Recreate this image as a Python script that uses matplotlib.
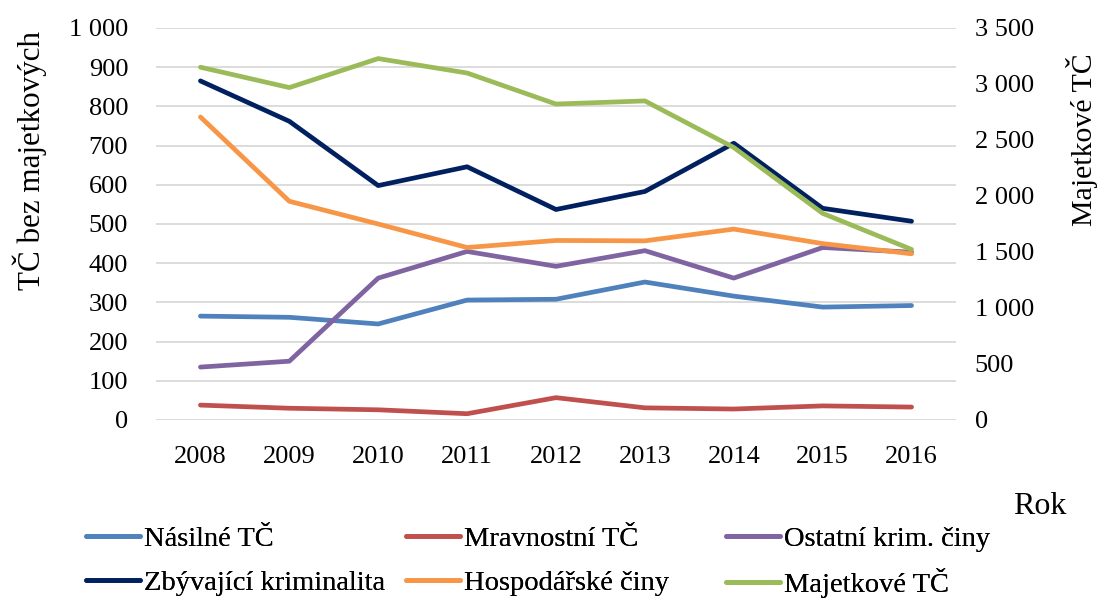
import matplotlib
matplotlib.use("Agg")
import matplotlib.pyplot as plt
from matplotlib.ticker import FixedLocator, FuncFormatter

plt.rcParams['font.family'] = ['Liberation Serif', 'DejaVu Serif']

years = [2008, 2009, 2010, 2011, 2012, 2013, 2014, 2015, 2016]
nasilne = [265, 262, 245, 306, 308, 352, 316, 288, 292]
mravnostni = [38, 30, 26, 16, 57, 31, 28, 36, 33]
ostatni = [135, 150, 362, 430, 392, 432, 362, 440, 428]
zbyvajici = [865, 762, 598, 646, 537, 583, 706, 540, 507]
hospodarske = [773, 558, 500, 440, 458, 457, 487, 450, 424]
majetkove = [3150, 2968, 3227, 3098, 2821, 2849, 2433, 1845, 1523]

left_ticks = [0, 100, 200, 300, 400, 500, 600, 700, 800, 900, 1000]
right_ticks = [0, 500, 1000, 1500, 2000, 2500, 3000, 3500]

colors = {
    'Násilné TČ': '#4F81BD',
    'Mravnostní TČ': '#C0504D',
    'Ostatní krim. činy': '#8064A2',
    'Zbývající kriminalita': '#002060',
    'Hospodářské činy': '#F79646',
    'Majetkové TČ': '#9BBB59',
}

W, H = 1103, 601
fig = plt.figure(figsize=(W/100, H/100), dpi=100)
ax = fig.add_axes([156/W, 1-420/H, (956-156)/W, (420-28)/H])
ax2 = ax.twinx()

lw = 3.4
h = {}
for name, vals in [('Násilné TČ', nasilne), ('Mravnostní TČ', mravnostni),
                   ('Ostatní krim. činy', ostatni), ('Zbývající kriminalita', zbyvajici),
                   ('Hospodářské činy', hospodarske)]:
    h[name], = ax.plot(years, vals, color=colors[name], lw=lw, solid_capstyle='round',
                       solid_joinstyle='round', zorder=3)
h['Majetkové TČ'], = ax2.plot(years, majetkove, color=colors['Majetkové TČ'], lw=lw,
                              solid_capstyle='round', solid_joinstyle='round', zorder=3)

fmt = FuncFormatter(lambda v, p: f"{int(v):,}".replace(",", " "))
ax.set_ylim(0, 1000)
ax2.set_ylim(0, 3500)
ax.set_xlim(2007.5, 2016.5)
ax.yaxis.set_major_locator(FixedLocator(left_ticks))
ax2.yaxis.set_major_locator(FixedLocator(right_ticks))
ax.yaxis.set_major_formatter(fmt)
ax2.yaxis.set_major_formatter(fmt)
ax.set_xticks(years)
ax.grid(axis='y', color='#D9D9D9', lw=1.3, zorder=0)
ax.set_axisbelow(True)
for a in (ax, ax2):
    for s in a.spines.values():
        s.set_visible(False)
    a.tick_params(length=0, labelsize=19)
ax.tick_params(axis='y', pad=20)
ax2.tick_params(axis='y', pad=13.5)
ax.tick_params(axis='x', pad=19)

fig.text(30/W, 1-161/H, 'TČ bez majetkových', rotation=90, fontsize=22.4,
         ha='center', va='center')
fig.text(1082/W, 1-140/H, 'Majetkové TČ', rotation=90, fontsize=21.5,
         ha='center', va='center')
fig.text(1040/W, 1-507/H, 'Rok', fontsize=23, ha='center', va='center')

entries = [(86, 539, 'Násilné TČ'), (406, 539, 'Mravnostní TČ'),
           (726, 539, 'Ostatní krim. činy'),
           (86, 583, 'Zbývající kriminalita'), (406, 583, 'Hospodářské činy'),
           (726, 583, 'Majetkové TČ')]
for x0, y0, name in entries:
    leg = fig.legend([h[name]], [name], loc='center left',
                     bbox_to_anchor=(x0/W, 1-y0/H), frameon=False, fontsize=20.5,
                     handlelength=1.9, handletextpad=0.14,
                     borderpad=0, borderaxespad=0)
    fig.add_artist(leg)

fig.savefig('out.png', dpi=100)
